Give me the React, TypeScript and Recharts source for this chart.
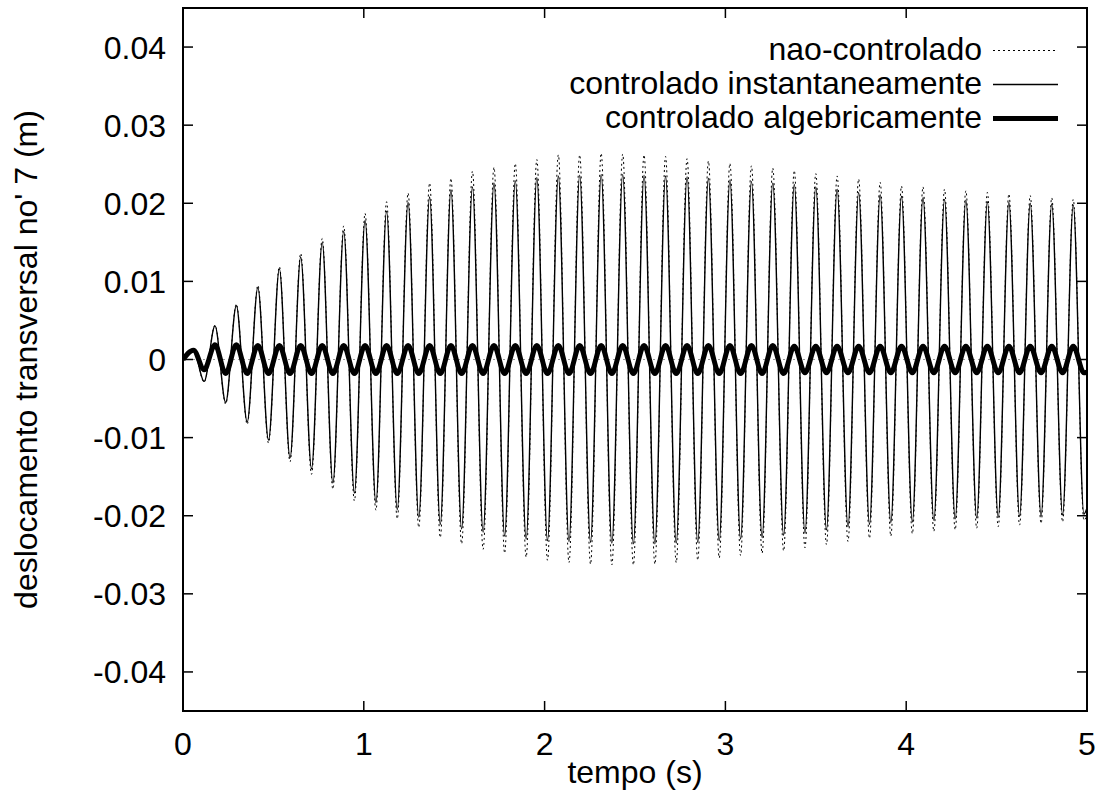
import { Legend, Line, LineChart, ReferenceArea, ReferenceLine, XAxis, YAxis } from 'recharts'

// tempo (s) of each local maximum / minimum
const peakTimes = [
  0.058, 0.177, 0.295, 0.414, 0.533, 0.651, 0.77, 0.889, 1.007, 1.126, 1.245, 1.364, 1.482, 1.601,
  1.72, 1.838, 1.957, 2.076, 2.194, 2.313, 2.432, 2.55, 2.669, 2.788, 2.906, 3.025, 3.144, 3.262,
  3.381, 3.5, 3.618, 3.737, 3.856, 3.974, 4.093, 4.212, 4.33, 4.449, 4.568, 4.686, 4.805, 4.924,
]
const troughTimes = [
  0.117, 0.236, 0.355, 0.473, 0.592, 0.711, 0.829, 0.948, 1.067, 1.185, 1.304, 1.423, 1.541, 1.66,
  1.779, 1.898, 2.016, 2.135, 2.254, 2.372, 2.491, 2.61, 2.728, 2.847, 2.966, 3.084, 3.203, 3.322,
  3.44, 3.559, 3.678, 3.797, 3.915, 4.034, 4.153, 4.271, 4.39, 4.509, 4.627, 4.746, 4.865, 4.983,
]

// nao-controlado
const naoPeaks = [
  0.0012, 0.0044, 0.0071, 0.0095, 0.0119, 0.0136, 0.0155, 0.0171, 0.0187, 0.0202, 0.0213, 0.0226,
  0.0232, 0.0241, 0.0246, 0.0251, 0.0256, 0.0262, 0.0262, 0.0264, 0.0263, 0.0262, 0.026, 0.0257,
  0.0254, 0.0251, 0.0248, 0.0245, 0.0242, 0.0238, 0.0235, 0.0231, 0.0227, 0.0222, 0.0221, 0.0218,
  0.0216, 0.0214, 0.0212, 0.021, 0.0207, 0.0205,
]
const naoTroughs = [
  -0.0029, -0.0057, -0.0083, -0.0107, -0.0131, -0.0147, -0.0166, -0.0181, -0.0193, -0.0204,
  -0.0215, -0.0228, -0.0236, -0.0243, -0.0248, -0.0253, -0.0257, -0.026, -0.0262, -0.0263,
  -0.0263, -0.0262, -0.026, -0.0257, -0.0254, -0.0251, -0.0248, -0.0245, -0.0241, -0.0237,
  -0.0233, -0.0229, -0.0226, -0.0223, -0.022, -0.0218, -0.0216, -0.0214, -0.0212, -0.021,
  -0.0208, -0.0206,
]

// controlado instantaneamente
const instPeaks = [
  0.0012, 0.0043, 0.0069, 0.0092, 0.0116, 0.0131, 0.015, 0.0164, 0.0178, 0.019, 0.0201, 0.0208,
  0.0217, 0.0221, 0.0226, 0.0229, 0.0233, 0.0235, 0.0236, 0.0237, 0.0237, 0.0236, 0.0235, 0.0234,
  0.0232, 0.023, 0.0228, 0.0226, 0.0224, 0.0221, 0.0218, 0.0214, 0.0211, 0.0209, 0.0207, 0.0205,
  0.0204, 0.0202, 0.0201, 0.02, 0.0199, 0.0198,
]
const instTroughs = [
  -0.0028, -0.0055, -0.008, -0.0103, -0.0126, -0.014, -0.0158, -0.0171, -0.0183, -0.0192,
  -0.0202, -0.0211, -0.0217, -0.0221, -0.0226, -0.023, -0.0232, -0.0233, -0.0234, -0.0235,
  -0.0236, -0.0236, -0.0235, -0.0234, -0.0232, -0.023, -0.0228, -0.0225, -0.0222, -0.0218,
  -0.0214, -0.0211, -0.0209, -0.0208, -0.0206, -0.0204, -0.0203, -0.0202, -0.0201, -0.02,
  -0.0199, -0.0198,
]

// controlado algebricamente
const algPeaks = [
  0.0012, 0.0019, 0.0019, 0.0018, 0.0018, 0.0018, 0.0018, 0.0018, 0.0018, 0.0018, 0.0018, 0.0018,
  0.0018, 0.0018, 0.0018, 0.0018, 0.0018, 0.0018, 0.0018, 0.0018, 0.0018, 0.0018, 0.0018, 0.0018,
  0.0018, 0.0018, 0.0018, 0.0018, 0.0017, 0.0017, 0.0017, 0.0017, 0.0017, 0.0017, 0.0017, 0.0017,
  0.0017, 0.0017, 0.0017, 0.0017, 0.0017, 0.0017,
]
const algTroughs = [
  -0.0013, -0.0018, -0.0018, -0.0018, -0.0018, -0.0018, -0.0018, -0.0018, -0.0018, -0.0018,
  -0.0018, -0.0018, -0.0018, -0.0018, -0.0018, -0.0018, -0.0018, -0.0018, -0.0018, -0.0018,
  -0.0018, -0.0018, -0.0018, -0.0018, -0.0018, -0.0018, -0.0018, -0.0018, -0.0017, -0.0017,
  -0.0017, -0.0017, -0.0017, -0.0017, -0.0017, -0.0017, -0.0017, -0.0017, -0.0017, -0.0017,
  -0.0017, -0.0017,
]

// first and last samples
const startRow = { t: 0, nao: 0, inst: 0, alg: 0 }
const endRow = { t: 5, nao: -0.0198, inst: -0.019, alg: -0.0016 }

const xTicks = [0, 1, 2, 3, 4, 5]
const yTicks = [-0.04, -0.03, -0.02, -0.01, 0, 0.01, 0.02, 0.03, 0.04]

const data = [startRow]
peakTimes.forEach((t, i) => {
  data.push({ t, nao: naoPeaks[i], inst: instPeaks[i], alg: algPeaks[i] })
  data.push({ t: troughTimes[i], nao: naoTroughs[i], inst: instTroughs[i], alg: algTroughs[i] })
})
data.push(endRow)

const SERIES = [
  { key: 'nao', name: 'nao-controlado', width: 1, dash: '2 3' },
  { key: 'inst', name: 'controlado instantaneamente', width: 1.4, dash: undefined },
  { key: 'alg', name: 'controlado algebricamente', width: 5, dash: undefined },
]

const W = 1099
const H = 795
const Y_AXIS_W = 183
const X_AXIS_H = 84
const MARGIN = { top: 8, right: 12, bottom: 0, left: 0 }
const PLOT_LEFT = MARGIN.left + Y_AXIS_W
const PLOT_RIGHT = W - MARGIN.right
const PLOT_TOP = MARGIN.top
const PLOT_BOTTOM = H - MARGIN.bottom - X_AXIS_H
const TICK = 10
const FONT = '"Liberation Sans", Arial, Helvetica, sans-serif'
const FS = 32

const fmtY = (v: number) => String(Number(v.toFixed(3)))

function YTick({ y, payload }: any) {
  return (
    <g>
      <line x1={PLOT_LEFT} x2={PLOT_LEFT + TICK} y1={y} y2={y} stroke="#000" strokeWidth={1.5} />
      <line x1={PLOT_RIGHT - TICK} x2={PLOT_RIGHT} y1={y} y2={y} stroke="#000" strokeWidth={1.5} />
      <text x={PLOT_LEFT - 17} y={y + 11.5} textAnchor="end" fontFamily={FONT} fontSize={FS} fill="#000">
        {fmtY(payload.value)}
      </text>
    </g>
  )
}

function XTick({ x, payload }: any) {
  return (
    <g>
      <line x1={x} x2={x} y1={PLOT_BOTTOM} y2={PLOT_BOTTOM - TICK} stroke="#000" strokeWidth={1.5} />
      <line x1={x} x2={x} y1={PLOT_TOP} y2={PLOT_TOP + TICK} stroke="#000" strokeWidth={1.5} />
      <text x={x} y={PLOT_BOTTOM + 44} textAnchor="middle" fontFamily={FONT} fontSize={FS} fill="#000">
        {payload.value}
      </text>
    </g>
  )
}

function renderLegend({ payload }: any) {
  const keys = (payload ?? []).map((p: any) => p.dataKey)
  const items = SERIES.filter((s) => keys.includes(s.key))
  return (
    <svg width={W} height={140}>
      {items.map((s, i) => (
        <g key={s.key}>
          <text x={982} y={60 + 34 * i} textAnchor="end" fontFamily={FONT} fontSize={FS} fill="#000">
            {s.name}
          </text>
          <line
            x1={993}
            x2={1058}
            y1={50.5 + 34 * i}
            y2={50.5 + 34 * i}
            stroke="#000"
            strokeWidth={s.width}
            strokeDasharray={s.dash}
          />
        </g>
      ))}
    </svg>
  )
}

export default function App() {
  const yMid = (PLOT_TOP + PLOT_BOTTOM) / 2
  return (
    <div style={{ position: 'absolute', left: 0, top: 0, width: W, height: H, background: '#fff' }}>
      <LineChart width={W} height={H} data={data} margin={MARGIN}>
        <XAxis
          dataKey="t"
          type="number"
          domain={[0, 5]}
          ticks={xTicks}
          allowDataOverflow
          axisLine={false}
          tickLine={false}
          height={X_AXIS_H}
          tick={(p: any) => <XTick {...p} />}
          label={({ viewBox }: any) => (
            <text
              x={viewBox.x + viewBox.width / 2}
              y={PLOT_BOTTOM + 72}
              textAnchor="middle"
              fontFamily={FONT}
              fontSize={FS}
              fill="#000"
            >
              tempo (s)
            </text>
          )}
        />
        <YAxis
          type="number"
          domain={[-0.045, 0.045]}
          ticks={yTicks}
          allowDataOverflow
          axisLine={false}
          tickLine={false}
          width={Y_AXIS_W}
          tick={(p: any) => <YTick {...p} />}
          label={() => (
            <text
              x={37}
              y={yMid}
              transform={`rotate(-90, 37, ${yMid})`}
              textAnchor="middle"
              fontFamily={FONT}
              fontSize={FS}
              fill="#000"
            >
              deslocamento transversal no' 7 (m)
            </text>
          )}
        />
        <ReferenceLine y={0} stroke="#999" strokeWidth={1} strokeDasharray="2 3" />
        {SERIES.map((s) => (
          <Line
            key={s.key}
            dataKey={s.key}
            name={s.name}
            type="monotone"
            stroke="#000"
            strokeWidth={s.width}
            strokeDasharray={s.dash}
            dot={false}
            activeDot={false}
            isAnimationActive={false}
          />
        ))}
        <ReferenceArea x1={0} x2={5} y1={-0.045} y2={0.045} fill="none" stroke="#000" strokeWidth={2} />
        <Legend
          layout="vertical"
          align="center"
          verticalAlign="middle"
          wrapperStyle={{ position: 'absolute', top: 0, left: 0, width: W, height: 140 }}
          content={renderLegend}
        />
      </LineChart>
    </div>
  )
}
